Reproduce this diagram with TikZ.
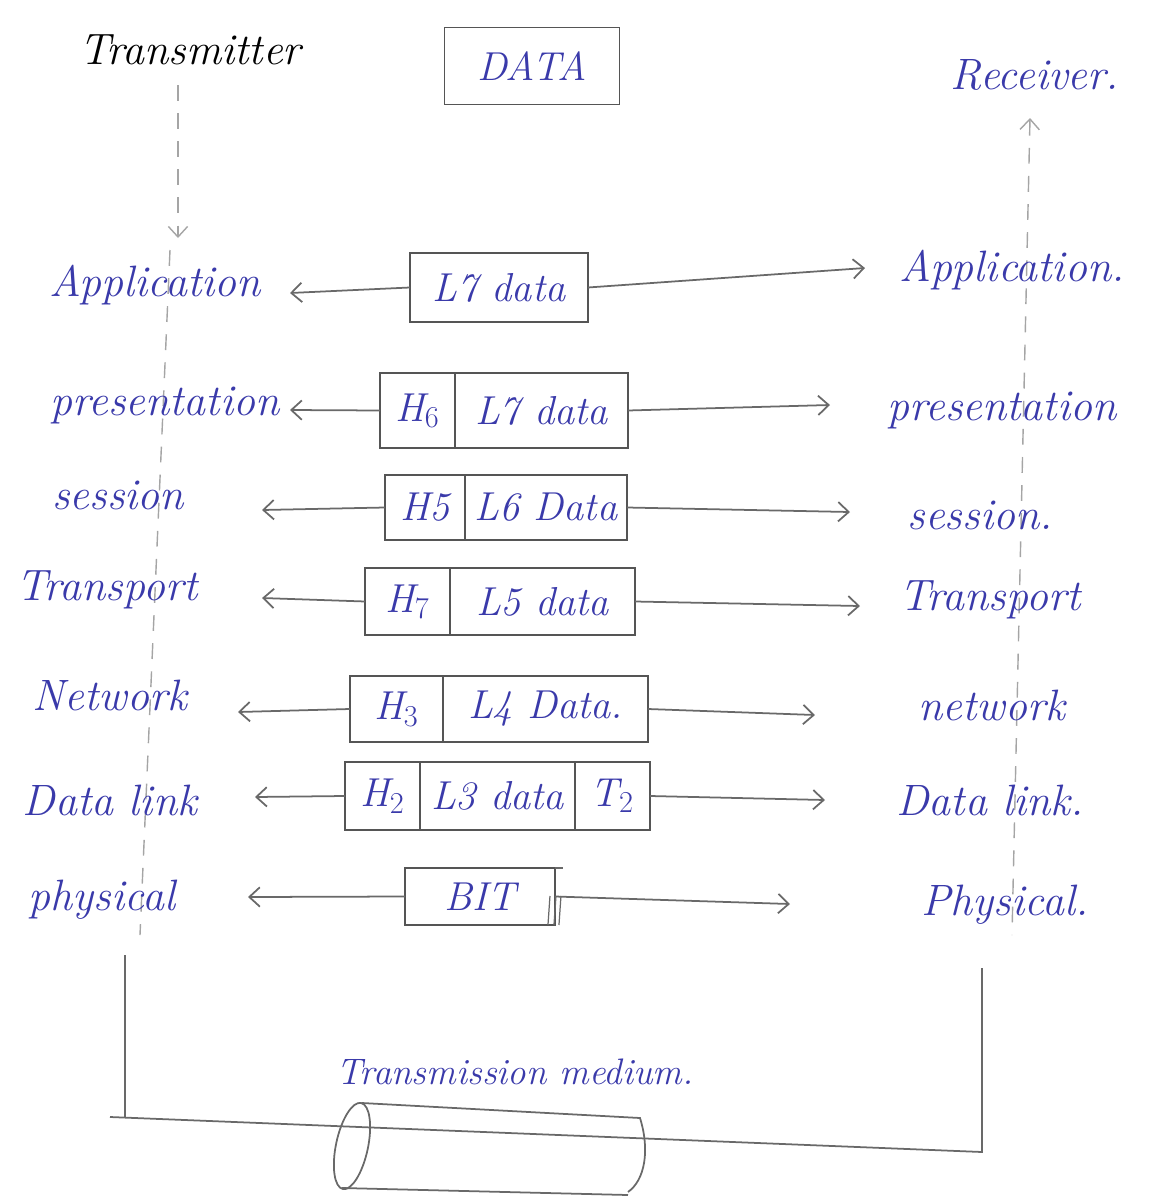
\documentclass[tikz,border=0pt]{standalone}
\usepackage{fontspec}
\usetikzlibrary{arrows.meta}
\definecolor{ink}{RGB}{58,58,170}
\definecolor{pencil}{RGB}{105,105,105}
\definecolor{frame}{RGB}{85,85,85}
\newcommand{\lblfont}{\fontsize{25}{30}\selectfont\itshape}
\newcommand{\cellfont}{\fontsize{23}{27}\selectfont\itshape}
\begin{document}
\begin{tikzpicture}[x=0.02cm,y=-0.02cm,
  lbl/.style={text=ink, font=\lblfont, inner sep=2pt},
  cell/.style={draw=frame, line width=1pt, inner sep=0pt, outer sep=0pt,
               anchor=north west, text=ink, font=\cellfont},
  conn/.style={draw=pencil, line width=1pt, -{Straight Barb[length=6pt,width=11pt]}},
  guide/.style={draw=pencil!60, line width=0.8pt, dash pattern=on 9pt off 7pt},
  wire/.style={draw=pencil, line width=1pt}]
\useasboundingbox (0,0) rectangle (1161,1198);

% dashed guides running down the two stacks
\coordinate (tdTop) at (178,85);
\coordinate (tdTip) at (178,238);
\coordinate (lgTop) at (170,250);
\coordinate (lgBot) at (140,935);
\coordinate (rdTip) at (1030,118);
\coordinate (rdBot) at (1012,935);
\draw[guide, -{Straight Barb[length=6pt,width=11pt]}] (tdTop) -- (tdTip);
\draw[guide] (lgTop) -- (lgBot);
\draw[guide, {Straight Barb[length=6pt,width=11pt]}-] (rdTip) -- (rdBot);

% titles
\node[font=\lblfont, text=black] (tx) at (190,50) {Transmitter};
\node[lbl] (rx) at (1035,75) {Receiver.};
\node[draw=frame, line width=1pt, text=ink, font=\cellfont,
      minimum width=3.5cm, minimum height=1.54cm] (data) at (532,66) {DATA};

% transmitter layers
\node[lbl] (appL) at (155,285) {Application};
\node[lbl] (preL) at (165,405) {presentation};
\node[lbl] (sesL) at (118,495) {session};
\node[lbl] (traL) at (107,590) {Transport};
\node[lbl] (netL) at (110,695) {Network};
\node[lbl] (dllL) at (110,800) {Data link};
\node[lbl] (phyL) at (102,900) {physical};

% receiver layers
\node[lbl] (appR) at (1012,270) {Application.};
\node[lbl] (preR) at (1002,410) {presentation};
\node[lbl] (sesR) at (980,515) {session.};
\node[lbl] (traR) at (990,600) {Transport};
\node[lbl] (netR) at (992,705) {network};
\node[lbl] (dllR) at (990,800) {Data link.};
\node[lbl] (phyR) at (1005,905) {Physical.};

% protocol data units
\node[cell, minimum width=3.56cm, minimum height=1.38cm] (r1) at (410,253) {L7 data};

\node[cell, minimum width=1.5cm, minimum height=1.5cm] (r2a) at (380,373) {H$_6$};
\node[cell, minimum width=3.46cm, minimum height=1.5cm] (r2b) at (r2a.north east) {L7 data};

\node[cell, minimum width=1.6cm, minimum height=1.3cm] (r3a) at (385,475) {H5};
\node[cell, minimum width=3.24cm, minimum height=1.3cm] (r3b) at (r3a.north east) {L6 Data};

\node[cell, minimum width=1.7cm, minimum height=1.34cm] (r4a) at (365,568) {H$_7$};
\node[cell, minimum width=3.7cm, minimum height=1.34cm] (r4b) at (r4a.north east) {L5 data};

\node[cell, minimum width=1.86cm, minimum height=1.32cm] (r5a) at (350,676) {H$_3$};
\node[cell, minimum width=4.1cm, minimum height=1.32cm] (r5b) at (r5a.north east) {L4 Data.};

\node[cell, minimum width=1.5cm, minimum height=1.36cm] (r6a) at (345,762) {H$_2$};
\node[cell, minimum width=3.1cm, minimum height=1.36cm] (r6b) at (r6a.north east) {L3 data};
\node[cell, minimum width=1.5cm, minimum height=1.36cm] (r6c) at (r6b.north east) {T$_2$};

\node[cell, minimum width=3.0cm, minimum height=1.14cm] (r7) at (405,868) {BIT};
\draw[wire, line width=0.8pt] (r7.north east) -- ++(8,0);
\draw[wire, line width=0.7pt] ([xshift=-0.1cm,yshift=0.58cm]r7.south east) -- ([xshift=-0.14cm]r7.south east);
\draw[wire, line width=0.7pt] ([xshift=0.02cm,yshift=0.58cm]r7.south east) -- ([xshift=-0.02cm]r7.south east);
\draw[wire, line width=0.7pt] ([xshift=0.12cm,yshift=0.58cm]r7.south east) -- ([xshift=0.08cm]r7.south east);

% arrow ends near the layer names
\coordinate (a1l) at (290,293); \coordinate (a1r) at (865,268);
\coordinate (a2l) at (290,410); \coordinate (a2r) at (830,405);
\coordinate (a3l) at (262,510); \coordinate (a3r) at (850,512);
\coordinate (a4l) at (262,598); \coordinate (a4r) at (860,606);
\coordinate (a5l) at (238,712); \coordinate (a5r) at (815,715);
\coordinate (a6l) at (255,797); \coordinate (a6r) at (825,800);
\coordinate (a7l) at (248,897); \coordinate (a7r) at (790,904);

\draw[conn] (r1.west) -- (a1l);  \draw[conn] (r1.east) -- (a1r);
\draw[conn] (r2a.west) -- (a2l); \draw[conn] (r2b.east) -- (a2r);
\draw[conn] (r3a.west) -- (a3l); \draw[conn] (r3b.east) -- (a3r);
\draw[conn] (r4a.west) -- (a4l); \draw[conn] (r4b.east) -- (a4r);
\draw[conn] (r5a.west) -- (a5l); \draw[conn] (r5b.east) -- (a5r);
\draw[conn] (r6a.west) -- (a6l); \draw[conn] (r6c.east) -- (a6r);
\draw[conn] (r7.west) -- (a7l);  \draw[conn] (r7.east) -- (a7r);

% transmission medium
\node[text=ink, font=\fontsize{21}{25}\selectfont\itshape] (med) at (515,1072) {Transmission medium.};
\coordinate (lw1) at (125,955);
\coordinate (lw2) at (125,1118);
\coordinate (mL) at (110,1117);
\coordinate (mR) at (982,1152);
\coordinate (rw) at (982,968);
\draw[wire] (lw1) -- (lw2);
\draw[wire] (mL) -- (mR) -- (rw);

% cable drawn as a cylinder
\draw[wire, rotate around={-12:(352,1146)}] (352,1146) ellipse [x radius=16, y radius=44];
\draw[wire] (362,1103) -- (640,1118) .. controls (650,1150) and (645,1180) .. (628,1192);
\draw[wire] (342,1188) -- (628,1195);
\end{tikzpicture}
\end{document}
